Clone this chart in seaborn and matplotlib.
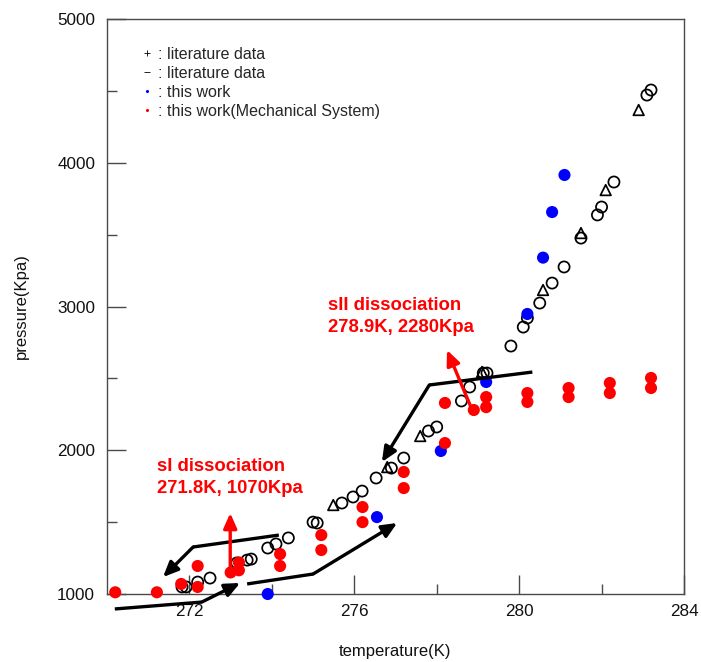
import matplotlib
matplotlib.use("Agg")
import matplotlib.pyplot as plt
import seaborn as sns
import pandas as pd
from matplotlib.lines import Line2D

# ---------------- data ----------------
lit_circle_T = [271.82, 271.92, 272.2, 272.5, 273.15, 273.4, 273.5, 273.9, 274.1, 274.4,
                275.0, 275.1, 275.7, 275.97, 276.19, 276.53, 276.9, 277.2, 277.8, 278.0,
                278.6, 278.8, 279.13, 279.22, 279.8, 280.1, 280.2, 280.5, 280.8, 281.09,
                281.5, 281.9, 282.0, 282.3, 283.1, 283.2]
lit_circle_P = [1049, 1049, 1083, 1111, 1216, 1236, 1243, 1320, 1348, 1390,
                1500, 1494, 1633, 1675, 1716, 1807, 1876, 1946, 2134, 2162,
                2343, 2440, 2537, 2537, 2725, 2857, 2920, 3024, 3163, 3275,
                3476, 3637, 3692, 3866, 4471, 4506]

lit_tri_T = [275.49, 276.8, 277.6, 279.1, 280.58, 281.5, 282.1, 282.9]
lit_tri_P = [1619, 1883, 2099, 2545, 3115, 3511, 3810, 4367]

work_T = [273.9, 276.55, 278.1, 279.2, 280.2, 280.58, 280.8, 281.1]
work_P = [1000, 1535, 1995, 2475, 2948, 3340, 3657, 3915]

mech_T = [270.2, 271.21, 271.8, 272.2, 272.2, 273.0, 273.2, 273.2, 274.2, 274.2,
          275.2, 275.2, 276.2, 276.2, 277.2, 277.2, 278.2, 278.2, 278.9, 279.2,
          279.2, 280.2, 280.2, 281.2, 281.2, 282.2, 282.2, 283.2, 283.2]
mech_P = [1012, 1012, 1070, 1049, 1195, 1150, 1165, 1220, 1278, 1195,
          1410, 1306, 1605, 1500, 1849, 1737, 2050, 2329, 2280, 2370,
          2300, 2398, 2336, 2433, 2370, 2468, 2398, 2503, 2433]

legend_labels = [": literature data", ": literature data", ": this work",
                 ": this work(Mechanical System)"]
x_ticks = [272, 276, 280, 284]
y_ticks = [1000, 2000, 3000, 4000, 5000]

# annotation paths (temperature, pressure)
black_path1 = [(270.19, 896), (272.3, 944), (273.23, 1077)]
black_path2 = [(273.4, 1070), (275.0, 1139), (277.04, 1494)]
black_path3 = [(274.17, 1410), (272.09, 1327), (271.36, 1118)]
black_path4 = [(280.32, 2544), (277.82, 2454), (276.67, 1918)]
red_arrow1 = [(272.99, 1153), (272.99, 1563)]
red_arrow2 = [(278.86, 2280), (278.25, 2697)]
note1 = "sI dissociation\n271.8K, 1070Kpa"
note2 = "sII dissociation\n278.9K, 2280Kpa"

# ---------------- style ----------------
sns.set_theme(style="white")
plt.rcParams['font.family'] = ['Liberation Sans', 'DejaVu Sans']

fig = plt.figure(figsize=(7.01, 6.62), dpi=100)
ax = fig.add_axes([0.15264, 0.1027, 0.8231, 0.8686])

df_c = pd.DataFrame({"T": lit_circle_T, "P": lit_circle_P})
df_t = pd.DataFrame({"T": lit_tri_T, "P": lit_tri_P})
df_w = pd.DataFrame({"T": work_T, "P": work_P})
df_m = pd.DataFrame({"T": mech_T, "P": mech_P})

sns.scatterplot(data=df_c, x="T", y="P", ax=ax, marker="o", s=64,
                facecolor="none", edgecolor="black", linewidth=1.25, clip_on=False, zorder=3)
sns.scatterplot(data=df_t, x="T", y="P", ax=ax, marker="^", s=58,
                facecolor="none", edgecolor="black", linewidth=1.25, clip_on=False, zorder=3)
sns.scatterplot(data=df_w, x="T", y="P", ax=ax, marker="o", s=76,
                color="#0000ff", edgecolor="none", linewidth=0, clip_on=False, zorder=4)
sns.scatterplot(data=df_m, x="T", y="P", ax=ax, marker="o", s=76,
                color="#ff0000", edgecolor="none", linewidth=0, clip_on=False, zorder=4)

ax.set_xlim(270, 284)
ax.set_ylim(1000, 5000)
ax.set_xticks(x_ticks)
ax.set_xticks([274, 278, 282], minor=True)
ax.set_yticks(y_ticks)
ax.set_yticks([1500, 2500, 3500, 4500], minor=True)
ax.set_xticklabels([str(v) for v in x_ticks])
ax.set_yticklabels([str(v) for v in y_ticks])

spine_col = "#4a4a4a"
for sp in ax.spines.values():
    sp.set_color(spine_col)
    sp.set_linewidth(1.0)
ax.tick_params(axis="both", which="major", direction="in", length=14, width=1.0,
               color=spine_col, labelsize=12.3, labelcolor="#111111")
ax.tick_params(axis="both", which="minor", direction="in", length=7, width=1.0,
               color=spine_col)
ax.tick_params(axis="y", which="major", pad=8.5)
ax.tick_params(axis="x", which="major", pad=7.5)
ax.tick_params(top=False, right=False, which="both")
ax.tick_params(left=True, bottom=True, which="both")

ax.set_xlabel("temperature(K)", fontsize=12, color="#111111", labelpad=18)
ax.set_ylabel("pressure(Kpa)", fontsize=12, color="#111111", labelpad=20)

# ---------------- annotations ----------------
def draw_path(path, color):
    xs = [p[0] for p in path[:-1]]
    ys = [p[1] for p in path[:-1]]
    ax.plot(xs, ys, color=color, lw=2.4, clip_on=False, zorder=5,
            solid_capstyle="butt", solid_joinstyle="miter")
    ax.annotate("", xy=path[-1], xytext=path[-2], annotation_clip=False,
                arrowprops=dict(arrowstyle="-|>,head_length=0.45,head_width=0.2",
                                color=color, lw=2.4, mutation_scale=20,
                                shrinkA=0, shrinkB=0), zorder=5)

for pth in (black_path1, black_path2, black_path3, black_path4):
    draw_path(pth, "black")
for pth in (red_arrow1, red_arrow2):
    draw_path(pth, "#ff0000")

ax.text(271.21, 1945, note1, color="#ff0000", fontsize=13.3, fontweight="bold",
        ha="left", va="top", linespacing=1.35, zorder=6)
ax.text(275.36, 3065, note2, color="#ff0000", fontsize=13.3, fontweight="bold",
        ha="left", va="top", linespacing=1.35, zorder=6)

# ---------------- legend ----------------
handles = [
    Line2D([], [], ls="none", marker="+", ms=4, mew=0.6, color="black"),
    Line2D([], [], ls="none", marker="_", ms=4, mew=0.6, color="black"),
    Line2D([], [], ls="none", marker=".", ms=2.5, color="#0000ff"),
    Line2D([], [], ls="none", marker=".", ms=2.5, color="#ff0000"),
]
ax.legend(handles, legend_labels, loc="upper left", bbox_to_anchor=(0.06, 0.952),
          frameon=False, fontsize=11.5, handlelength=0.7, handletextpad=0.35,
          labelspacing=0.26, borderpad=0, borderaxespad=0)

fig.savefig("out.png", dpi=100, facecolor="white")
